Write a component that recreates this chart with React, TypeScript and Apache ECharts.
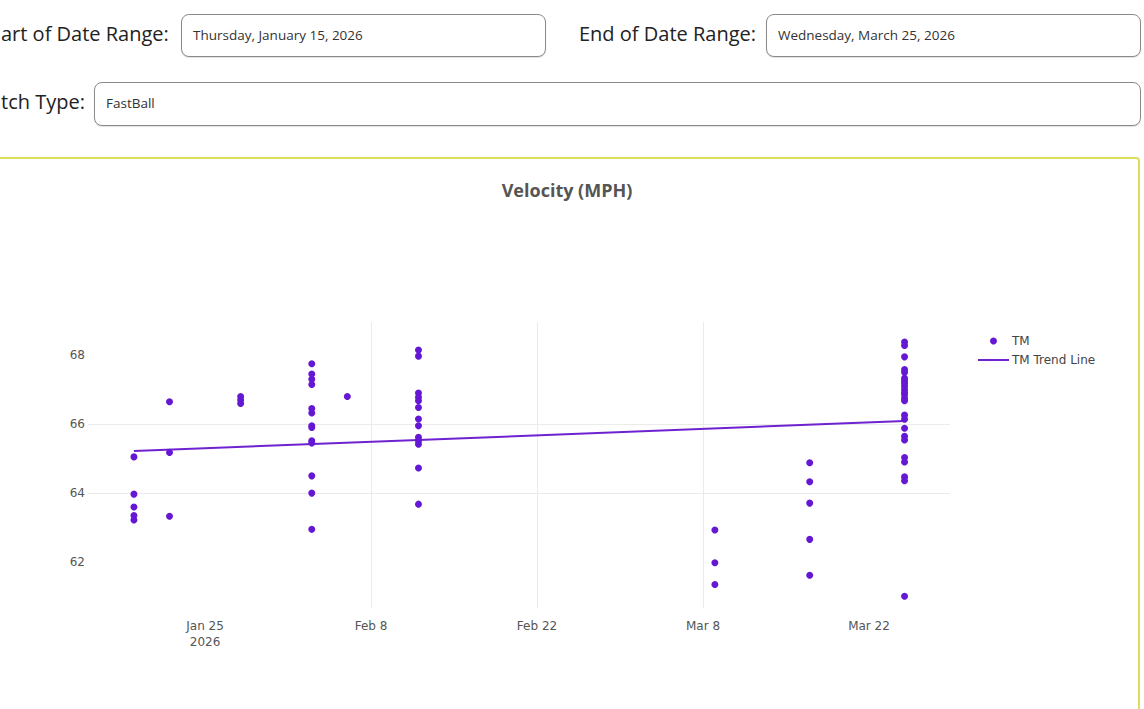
import React, { useEffect, useRef } from "react";
import * as echarts from "echarts";

// ---------- data ----------
const sessionDates = [
  "2026-01-19",
  "2026-01-22",
  "2026-01-28",
  "2026-02-03",
  "2026-02-06",
  "2026-02-12",
  "2026-03-09",
  "2026-03-17",
  "2026-03-25",
];
const velJan19 = [65.05, 63.97, 63.6, 63.35, 63.22];
const velJan22 = [66.65, 65.18, 63.33];
const velJan28 = [66.8, 66.7, 66.6];
const velFeb03 = [67.75, 67.45, 67.3, 67.15, 66.45, 66.32, 65.95, 65.9, 65.52, 65.45, 64.5, 64.0, 62.95];
const velFeb06 = [66.8];
const velFeb12 = [68.15, 67.97, 66.9, 66.78, 66.68, 66.48, 66.15, 65.95, 65.62, 65.52, 65.42, 64.73, 63.68];
const velMar09 = [62.93, 61.98, 61.35];
const velMar17 = [64.88, 64.33, 63.71, 62.66, 61.62];
const velMar25 = [
  68.38, 68.28, 67.95, 67.58, 67.5, 67.33, 67.25, 67.18, 67.1, 67.0, 66.92, 66.85, 66.75, 66.68,
  66.26, 66.14, 65.88, 65.65, 65.54, 65.03, 64.9, 64.47, 64.36, 61.01,
];
const sessionVelocities = [velJan19, velJan22, velJan28, velFeb03, velFeb06, velFeb12, velMar09, velMar17, velMar25];

const trendDates = ["2026-01-19", "2026-03-25"];
const trendValues = [65.22, 66.09];

const xTickDates = ["2026-01-25", "2026-02-08", "2026-02-22", "2026-03-08", "2026-03-22"];
const yTickValues = [62, 64, 66, 68];
const xRange = ["2026-01-15T03:00:00Z", "2026-03-28T20:00:00Z"];
const yRange = [60.67, 68.96];

const MONTHS = ["Jan", "Feb", "Mar", "Apr", "May", "Jun", "Jul", "Aug", "Sep", "Oct", "Nov", "Dec"];
const toMs = (d: string) => Date.parse(d.length === 10 ? d + "T00:00:00Z" : d);

const POINT_COLOR = "#6518d4";
const LINE_COLOR = "#6f22cf";

function VelocityChart() {
  const ref = useRef<HTMLDivElement>(null);
  useEffect(() => {
    if (!ref.current) return;
    const chart = echarts.init(ref.current, null, { renderer: "svg" });
    const points: [number, number][] = [];
    sessionDates.forEach((d, i) => {
      sessionVelocities[i].forEach((v) => points.push([toMs(d), v]));
    });
    const trend = trendDates.map((d, i) => [toMs(d), trendValues[i]]);
    const xTicks = xTickDates.map(toMs);
    const firstTick = xTicks[0];
    chart.setOption({
      animation: false,
      title: {
        text: "Velocity (MPH)",
        left: 562,
        top: 176,
        textAlign: "center",
        textStyle: {
          fontFamily: "'Open Sans', sans-serif",
          fontWeight: 700,
          fontSize: 18,
          color: "#555",
        },
      },
      legend: {
        orient: "vertical",
        left: 972,
        top: 330,
        itemWidth: 31,
        itemHeight: 7,
        itemGap: 7,
        textStyle: { fontFamily: "'DejaVu Sans', Verdana, sans-serif", fontSize: 12, color: "#444", padding: [0, 0, 0, -2] },
        data: [
          { name: "TM", icon: "circle", itemStyle: { color: POINT_COLOR, opacity: 1 } },
          { name: "TM Trend Line", itemStyle: { opacity: 0 } },
        ],
      },
      grid: { left: 88, right: 194, top: 322, bottom: 101, containLabel: false },
      xAxis: {
        type: "value",
        min: toMs(xRange[0]),
        max: toMs(xRange[1]),
        axisLine: { show: false },
        axisTick: { show: false, customValues: xTicks },
        axisLabel: {
          customValues: xTicks,
          margin: 10,
          fontFamily: "'DejaVu Sans', Verdana, sans-serif",
          fontSize: 12,
          color: "#555",
          lineHeight: 16,
          formatter: (val: number) => {
            const dt = new Date(val);
            const s = MONTHS[dt.getUTCMonth()] + " " + dt.getUTCDate();
            return Math.abs(val - firstTick) < 1000 ? s + "\n" + dt.getUTCFullYear() : s;
          },
        },
        splitLine: { show: true, showMinLine: false, showMaxLine: false, lineStyle: { color: "#ebebeb", width: 1 } },
      },
      yAxis: {
        type: "value",
        min: yRange[0],
        max: yRange[1],
        axisLine: { show: false },
        axisTick: { show: false, customValues: yTickValues },
        axisLabel: {
          customValues: yTickValues,
          margin: 3,
          fontFamily: "'DejaVu Sans', Verdana, sans-serif",
          fontSize: 12,
          color: "#555",
        },
        splitLine: { show: true, showMinLine: false, showMaxLine: false, lineStyle: { color: "#ebebeb", width: 1 } },
      },
      series: [
        {
          name: "TM",
          type: "scatter",
          data: points,
          symbol: "circle",
          symbolSize: 7,
          itemStyle: { color: POINT_COLOR, opacity: 1 },
          z: 3,
        },
        {
          name: "TM Trend Line",
          type: "line",
          data: trend,
          symbol: "none",
          lineStyle: { color: LINE_COLOR, width: 2 },
          itemStyle: { color: LINE_COLOR },
          z: 2,
        },
      ],
    });
    return () => chart.dispose();
  }, []);
  return <div ref={ref} style={{ position: "absolute", left: 0, top: 0, width: 1144, height: 709 }} />;
}

const labelFont: React.CSSProperties = {
  position: "absolute",
  fontFamily: "'Open Sans', sans-serif",
  fontSize: 20,
  color: "#222",
  whiteSpace: "nowrap",
  lineHeight: "24px",
};

const boxStyle: React.CSSProperties = {
  position: "absolute",
  boxSizing: "border-box",
  border: "1px solid #8a8a8a",
  borderRadius: 8,
  background: "#fff",
  fontFamily: "'Open Sans', sans-serif",
  fontSize: 13.5,
  color: "#333",
  display: "flex",
  alignItems: "center",
  paddingLeft: 11,
  paddingBottom: 2,
  whiteSpace: "nowrap",
  boxShadow: "0 1px 1px rgba(0,0,0,0.12)",
};

export default function App() {
  return (
    <div
      style={{
        position: "absolute",
        left: 0,
        top: 0,
        width: 1144,
        height: 709,
        overflow: "hidden",
        background: "#fff",
      }}
    >
      <div style={{ ...labelFont, left: 1, top: 22 }}>art of Date Range:</div>
      <div style={{ ...boxStyle, left: 181, top: 14, width: 365, height: 43 }}>Thursday, January 15, 2026</div>
      <div style={{ ...labelFont, right: 1144 - 756, top: 22 }}>End of Date Range:</div>
      <div style={{ ...boxStyle, left: 766, top: 14, width: 375, height: 43 }}>Wednesday, March 25, 2026</div>
      <div style={{ ...labelFont, left: 1, top: 90 }}>tch Type:</div>
      <div style={{ ...boxStyle, left: 94, top: 82, width: 1047, height: 44 }}>FastBall</div>
      <div
        style={{
          position: "absolute",
          boxSizing: "border-box",
          left: -10,
          top: 157,
          width: 1150,
          height: 700,
          border: "2px solid #dede5e",
          borderRadius: 4,
        }}
      />
      <VelocityChart />
    </div>
  );
}
